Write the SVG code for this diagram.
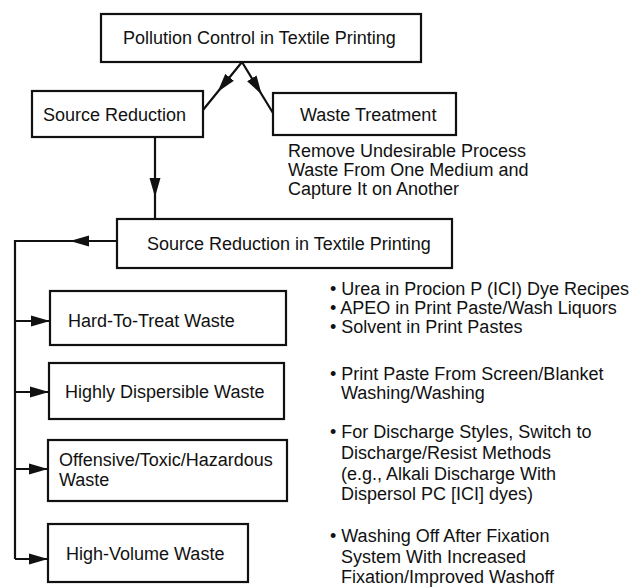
<svg xmlns="http://www.w3.org/2000/svg" width="638" height="587" viewBox="0 0 638 587">
  <style>
    .box { fill: #ffffff; stroke: #111111; stroke-width: 2.2; }
    .lbl { font-family: "Liberation Sans", Arial, Helvetica, sans-serif; font-size: 18px; fill: #111111; }
    .wire { fill: none; stroke: #111111; stroke-width: 2.2; }
  </style>
  <defs>
    <marker id="arrow" markerUnits="userSpaceOnUse" markerWidth="20" markerHeight="12" refX="19" refY="6" orient="auto">
      <path d="M0,0.5 L19,6 L0,11.5 z" fill="#111111"/>
    </marker>
  </defs>
  <rect width="638" height="587" fill="#ffffff"/>

  <!-- connectors -->
  <g id="connectors">
    <path class="wire" d="M242,62 L217.6,92 L203,110" marker-mid="url(#arrow)"/>
    <path class="wire" d="M242,62 L261.7,94.5 L273,113" marker-mid="url(#arrow)"/>
    <path class="wire" d="M155,137 L155,197 L155,219" marker-mid="url(#arrow)"/>
    <path class="wire" d="M117,241 L70,241 L15,241 L15,559"/>
    <path class="wire" d="M117,241 L70,241" marker-end="url(#arrow)"/>
    <path class="wire" d="M15,321 L50,321" marker-end="url(#arrow)"/>
    <path class="wire" d="M15,392 L49,392" marker-end="url(#arrow)"/>
    <path class="wire" d="M15,469 L48,469" marker-end="url(#arrow)"/>
    <path class="wire" d="M15,559 L48,559" marker-end="url(#arrow)"/>
  </g>

  <!-- nodes -->
  <g id="pollution-control">
    <rect class="box" x="101" y="14" width="320" height="48"/>
    <text class="lbl" x="123" y="44">Pollution Control in Textile Printing</text>
  </g>
  <g id="source-reduction">
    <rect class="box" x="32" y="91" width="171" height="46"/>
    <text class="lbl" x="43" y="121">Source Reduction</text>
  </g>
  <g id="waste-treatment">
    <rect class="box" x="273" y="93" width="183" height="42"/>
    <text class="lbl" x="300" y="121">Waste Treatment</text>
  </g>
  <g id="waste-treatment-note">
    <text class="lbl" x="288" y="157">Remove Undesirable Process</text>
    <text class="lbl" x="288" y="176">Waste From One Medium and</text>
    <text class="lbl" x="288" y="195">Capture It on Another</text>
  </g>
  <g id="sr-textile">
    <rect class="box" x="117" y="219" width="335" height="49"/>
    <text class="lbl" x="147" y="250">Source Reduction in Textile Printing</text>
  </g>
  <g id="hard-to-treat">
    <rect class="box" x="50" y="291" width="236" height="54"/>
    <text class="lbl" x="68" y="327">Hard-To-Treat Waste</text>
  </g>
  <g id="highly-dispersible">
    <rect class="box" x="49" y="363" width="235" height="56"/>
    <text class="lbl" x="65" y="398">Highly Dispersible Waste</text>
  </g>
  <g id="offensive">
    <rect class="box" x="48" y="440" width="239" height="61"/>
    <text class="lbl" x="59" y="466">Offensive/Toxic/Hazardous</text>
    <text class="lbl" x="59" y="486">Waste</text>
  </g>
  <g id="high-volume">
    <rect class="box" x="48" y="524" width="200" height="58"/>
    <text class="lbl" x="66" y="560">High-Volume Waste</text>
  </g>

  <!-- example notes -->
  <g id="notes-hard">
    <text class="lbl" x="330" y="295">• Urea in Procion P (ICI) Dye Recipes</text>
    <text class="lbl" x="330" y="314">• APEO in Print Paste/Wash Liquors</text>
    <text class="lbl" x="330" y="333">• Solvent in Print Pastes</text>
  </g>
  <g id="notes-dispersible">
    <text class="lbl" x="330" y="380">• Print Paste From Screen/Blanket</text>
    <text class="lbl" x="341" y="399">Washing/Washing</text>
  </g>
  <g id="notes-offensive">
    <text class="lbl" x="330" y="438">• For Discharge Styles, Switch to</text>
    <text class="lbl" x="341" y="459">Discharge/Resist Methods</text>
    <text class="lbl" x="341" y="480">(e.g., Alkali Discharge With</text>
    <text class="lbl" x="341" y="500">Dispersol PC [ICI] dyes)</text>
  </g>
  <g id="notes-volume">
    <text class="lbl" x="330" y="542">• Washing Off After Fixation</text>
    <text class="lbl" x="341" y="563">System With Increased</text>
    <text class="lbl" x="341" y="583">Fixation/Improved Washoff</text>
  </g>
</svg>
